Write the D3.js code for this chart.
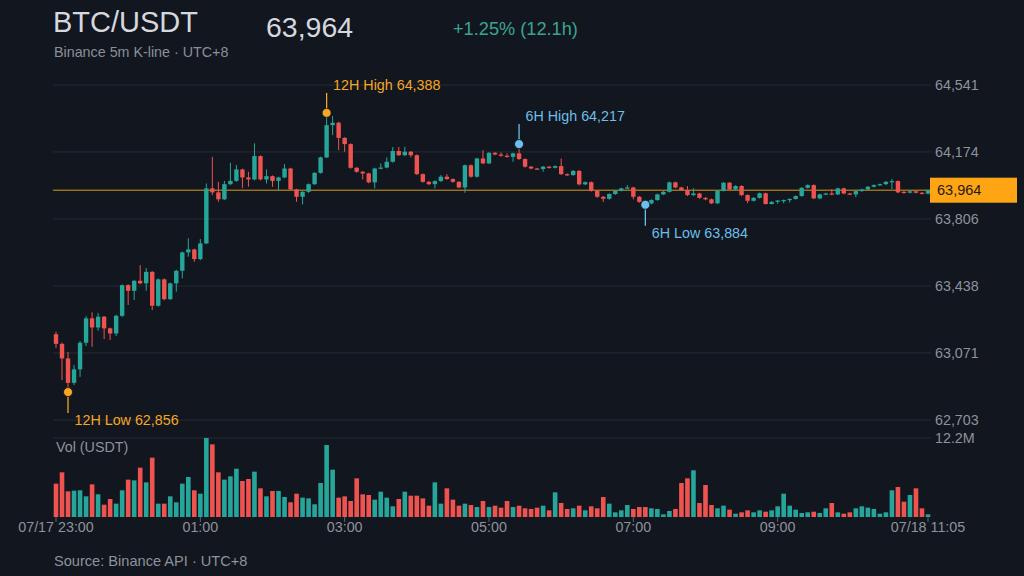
<!DOCTYPE html>
<html>
<head>
<meta charset="utf-8">
<script src="https://cdn.jsdelivr.net/npm/d3@7"></script>
<style>
  body { margin: 0; background: #12161f; }
  svg { display: block; }
</style>
</head>
<body>
<svg id="chart" width="1024" height="576"></svg>
<script>

// ---- values (BTC/USDT 5m candles, UTC+8) ----
var symbol = "BTC/USDT";
var startTime = "2024-07-17 23:00";
var stepMinutes = 5;

var opens = [
 63174,63121,63041,62907,62981,63127,63261,63211,63270,63206,
 63178,63275,63443,63412,63467,63453,63516,63330,63475,63366,
 63453,63522,63623,63639,63586,63672,63974,63952,63914,63997,
 64015,64078,64034,64023,64151,64023,64041,64015,64034,64083,
 63968,63928,63955,63997,64059,64144,64321,64334,64251,64217,
 64087,64065,64056,64007,64083,64088,64120,64179,64156,64175,
 64156,64052,64010,63997,64014,64038,64025,64010,63979,64101,
 64038,64138,64111,64169,64160,64153,64147,64166,64135,64093,
 64083,64080,64093,64087,64096,64052,64047,64070,63996,64008,
 63961,63928,63917,63943,63961,63974,63979,63928,63900,63891,
 63910,63941,63955,64007,63979,63965,63937,63946,63922,63914,
 63892,63961,64005,63968,63987,63937,63906,63922,63947,63888,
 63900,63907,63910,63916,63932,63977,63992,63919,63941,63946,
 63941,63974,63946,63941,63959,63968,63983,63992,63997,64010,
 64014,63955,63950,63958,63950,63945 ];

var highs = [
 63188,63128,63077,63005,63136,63273,63294,63291,63274,63210,
 63280,63447,63448,63470,63553,63537,63520,63480,63480,63457,
 63527,63627,63700,63643,63696,64001,64147,64010,64015,64114,
 64102,64082,64065,64221,64155,64078,64045,64038,64107,64087,
 63972,63959,64001,64063,64148,64388,64371,64340,64255,64221,
 64091,64069,64060,64087,64111,64144,64201,64201,64202,64179,
 64160,64056,64014,64018,64047,64052,64029,64014,64105,64105,
 64142,64184,64173,64174,64171,64166,64170,64217,64139,64097,
 64086,64097,64097,64100,64138,64056,64074,64074,64012,64012,
 63965,63932,63947,63965,63978,63992,63983,63932,63904,63914,
 63945,63959,64011,64011,63983,63987,63975,63950,63926,63918,
 63965,64009,64009,63991,63991,63941,63926,63951,63951,63904,
 63910,63913,63919,63935,63981,63996,63996,63945,63950,63970,
 63978,63978,63950,63963,63972,63987,63996,64000,64014,64025,
 64018,63959,63962,63962,63954,63967 ];

var lows = [
 63098,62922,62856.4,62895,62940,63109,63105,63193,63147,63142,
 63164,63268,63334,63361,63448,63412,63306,63325,63360,63362,
 63407,63480,63599,63571,63580,63668,63937,63900,63910,63992,
 64010,63975,63983,64018,64018,64001,63983,63961,64030,63964,
 63900,63886,63950,63993,64055,64140,64266,64184,64175,64082,
 64060,64023,64002,63974,64079,64084,64115,64152,64151,64144,
 64047,64005,63992,63974,64010,64021,64005,63975,63950,64033,
 64033,64107,64107,64155,64148,64142,64120,64130,64088,64079,
 64076,64065,64082,64083,64047,64042,64043,63990,63992,63956,
 63922,63899,63912,63938,63957,63970,63914,63895,63884,63887,
 63906,63937,63951,63975,63960,63932,63933,63917,63909,63888,
 63888,63957,63964,63962,63932,63893,63902,63918,63886,63886,
 63890,63892,63896,63912,63928,63973,63915,63915,63937,63937,
 63937,63942,63937,63926,63955,63964,63979,63988,63993,63970,
 63948,63945,63946,63946,63941,63941 ];

var closes = [
 63121,63041,62907,62981,63127,63261,63211,63270,63206,63178,
 63275,63443,63412,63467,63453,63516,63330,63475,63366,63453,
 63522,63623,63639,63586,63672,63974,63952,63914,63997,64015,
 64078,64034,64023,64151,64023,64041,64015,64034,64083,63968,
 63928,63955,63997,64059,64144,64321,64334,64251,64217,64087,
 64065,64056,64007,64083,64088,64120,64179,64156,64175,64156,
 64052,64010,63997,64014,64038,64025,64010,63979,64101,64038,
 64138,64111,64169,64160,64153,64147,64166,64135,64093,64083,
 64080,64093,64087,64096,64052,64047,64070,63996,64008,63961,
 63928,63917,63943,63961,63974,63979,63928,63900,63891,63910,
 63941,63955,64007,63979,63965,63937,63946,63922,63914,63892,
 63961,64005,63968,63987,63937,63906,63922,63947,63888,63900,
 63907,63910,63916,63932,63977,63992,63919,63941,63946,63941,
 63974,63946,63941,63959,63968,63983,63992,63997,64010,64014,
 63952,63950,63958,63950,63945,63964 ];

// volume in millions of USDT
var volumes = [
 5.15,6.90,3.96,4.07,4.12,3.19,5.04,3.50,1.90,2.78,
 2.06,4.12,5.77,5.66,7.62,5.35,9.16,2.06,2.06,3.19,
 2.27,5.15,6.18,4.12,3.60,12.2,11.22,6.90,5.77,6.28,
 7.46,5.56,5.87,7.00,4.43,3.19,4.02,4.02,3.09,2.27,
 3.60,2.99,2.88,1.96,5.25,11.12,7.31,2.99,3.19,2.47,
 5.97,3.50,3.40,2.68,3.91,2.99,1.65,2.78,3.91,3.29,
 3.29,2.88,1.75,5.35,2.06,4.43,2.68,1.75,2.06,1.85,
 1.54,2.47,1.54,1.75,1.44,2.47,1.54,1.75,1.34,1.24,
 1.44,1.75,1.03,3.81,2.16,1.24,1.34,1.75,1.03,1.65,
 1.34,3.09,2.06,0.72,1.03,1.85,1.24,1.54,1.54,1.34,
 1.24,0.41,0.93,1.24,5.25,5.97,7.21,2.16,4.94,1.85,
 1.34,1.75,1.13,0.51,0.72,1.03,0.72,1.03,0.82,1.03,
 1.65,3.60,1.75,1.13,0.62,0.72,0.82,0.62,1.34,2.16,
 0.72,0.51,0.72,1.34,1.65,1.44,1.24,0.51,0.72,4.12,
 4.63,2.37,3.40,4.43,1.34,0.41 ];
var volMax = 12.2;

var priceTicks = [62703, 63071, 63438, 63806, 64174, 64541];
var timeTicks = ["2024-07-17 23:00", "2024-07-18 01:00", "2024-07-18 03:00", "2024-07-18 05:00",
                 "2024-07-18 07:00", "2024-07-18 09:00", "2024-07-18 11:05"];
var timeTickLabels = ["07/17 23:00", "01:00", "03:00", "05:00", "07:00", "09:00", "07/18 11:05"];

// ---- colours ----
var UP = "#26a69a", DOWN = "#ef5350";
var GRID = "#262b36", AXIS_TXT = "#8e929b";
var ORANGE = "#f5a623", BLUE = "#6cbfe9";
var FONT = "'Liberation Sans', Arial, sans-serif";

var svg = d3.select("#chart");
var parse = d3.utcParse("%Y-%m-%d %H:%M");
var fmt = d3.format(",.0f");

var t0 = parse(startTime);
var candles = opens.map(function(o, i){
    return { t: new Date(+t0 + i*stepMinutes*60000), o: o, h: highs[i], l: lows[i], c: closes[i], v: volumes[i] };
});
var n = candles.length;

var left = 53, right = 931;
var x = d3.scaleTime().domain([candles[0].t, candles[n-1].t]).range([56, 928]);
var lo = d3.min(lows), hi = d3.max(highs), pad = (hi - lo)*0.1;
var y = d3.scaleLinear().domain([lo - pad, hi + pad]).range([420, 85]);
var yv = d3.scaleLinear().domain([0, volMax]).range([517, 438]);

function append_text( grp, px, py, text, size, color, align='start' ){
    return grp.append("text")
        .attr("x", px).attr("y", py)
        .attr("font-family", FONT)
        .attr("font-size", size + "px")
        .attr("fill", color)
        .attr("text-anchor", align)
        .text(text);
}

// ---- header ----
var last = candles[n-1];
var pct = (last.c - candles[0].o) / candles[0].o * 100;
var hours = (n - 1) * stepMinutes / 60;
var head = svg.append("g");
append_text(head, 53, 32, symbol, 29, "#d5d8de");
append_text(head, 266, 37, fmt(last.c), 28.5, "#d5d8de");
append_text(head, 453, 35, (pct >= 0 ? "+" : "") + pct.toFixed(2) + "% (" + hours.toFixed(1) + "h)", 18.2, "#3aa58f");
append_text(head, 54, 57, "Binance 5m K-line \u00b7 UTC+8", 14.3, "#8a8f98");

// ---- price grid + right axis ----
var grid = svg.append("g");
grid.selectAll("line").data(priceTicks).enter().append("line")
    .attr("x1", left).attr("x2", right)
    .attr("y1", function(d){ return y(d); }).attr("y2", function(d){ return y(d); })
    .attr("stroke", GRID).attr("stroke-width", 1);
grid.selectAll("text").data(priceTicks).enter().append("text")
    .attr("x", 935).attr("y", function(d){ return y(d); })
    .attr("dy", ".35em")
    .attr("font-family", FONT).attr("font-size", "14.3px")
    .attr("fill", AXIS_TXT)
    .text(function(d){ return fmt(d); });

// volume top line
grid.append("line").attr("x1", left).attr("x2", right)
    .attr("y1", yv(volMax)).attr("y2", yv(volMax))
    .attr("stroke", GRID);
append_text(grid, 935, yv(volMax), volMax + "M", 14.3, AXIS_TXT).attr("dy", ".35em");
append_text(grid, 56, 452, "Vol (USDT)", 14.3, AXIS_TXT);

// current price line
svg.append("line")
    .attr("x1", left).attr("x2", 930)
    .attr("y1", y(last.c)).attr("y2", y(last.c))
    .attr("stroke", "#d99a1e").attr("stroke-width", 1);

// ---- candles ----
var bw = 4.4;
var cg = svg.append("g");
cg.selectAll("line").data(candles).enter().append("line")
    .attr("x1", function(d){ return x(d.t); }).attr("x2", function(d){ return x(d.t); })
    .attr("y1", function(d){ return y(d.h); }).attr("y2", function(d){ return y(d.l); })
    .attr("stroke", function(d){ return d.c >= d.o ? UP : DOWN; })
    .attr("stroke-width", 1);
cg.selectAll("rect").data(candles).enter().append("rect")
    .attr("x", function(d){ return x(d.t) - bw/2; })
    .attr("y", function(d){ return y(Math.max(d.o, d.c)); })
    .attr("width", bw)
    .attr("height", function(d){ return Math.max(1.2, Math.abs(y(d.o) - y(d.c))); })
    .attr("fill", function(d){ return d.c >= d.o ? UP : DOWN; });

// ---- volume ----
svg.append("g").selectAll("rect").data(candles).enter().append("rect")
    .attr("x", function(d){ return x(d.t) - 2.3; })
    .attr("y", function(d){ return yv(d.v); })
    .attr("width", 4.6)
    .attr("height", function(d){ return yv(0) - yv(d.v); })
    .attr("fill", function(d){ return d.c >= d.o ? UP : DOWN; });

// ---- time axis ----
var tx = svg.append("g");
var tks = timeTicks.map(function(s, i){ return { t: parse(s), label: timeTickLabels[i] }; });
tx.selectAll("line").data(tks).enter().append("line")
    .attr("x1", function(d){ return x(d.t); }).attr("x2", function(d){ return x(d.t); })
    .attr("y1", 517).attr("y2", 522)
    .attr("stroke", "#5d626c");
tx.selectAll("text").data(tks).enter().append("text")
    .attr("x", function(d){ return x(d.t); }).attr("y", 532)
    .attr("text-anchor", "middle")
    .attr("font-family", FONT).attr("font-size", "14.3px")
    .attr("fill", AXIS_TXT)
    .text(function(d){ return d.label; });

append_text(svg, 54, 566, "Source: Binance API \u00b7 UTC+8", 14.6, AXIS_TXT);

// ---- high / low markers ----
function mark( d, val, isHigh, label, color ){
    var cx = x(d.t), cy = y(val);
    var g = svg.append("g");
    var ly = isHigh ? cy - 20 : cy + 21;
    g.append("line").attr("x1", cx).attr("x2", cx)
        .attr("y1", cy).attr("y2", ly)
        .attr("stroke", color).attr("stroke-width", 1.3);
    g.append("circle").attr("cx", cx).attr("cy", cy).attr("r", 4.5)
        .attr("fill", color).attr("stroke", "#12161f").attr("stroke-width", 0.8);
    append_text(g, cx + 6.5, isHigh ? cy - 23 : cy + 33, label + " " + fmt(val), 14.3, color);
}

var i12h = d3.maxIndex(candles, function(d){ return d.h; });
var i12l = d3.minIndex(candles, function(d){ return d.l; });
var recent = candles.slice(n - 72);
var i6h = d3.maxIndex(recent, function(d){ return d.h; });
var i6l = d3.minIndex(recent, function(d){ return d.l; });

mark(candles[i12h], candles[i12h].h, true, "12H High", ORANGE);
mark(candles[i12l], candles[i12l].l, false, "12H Low", ORANGE);
mark(recent[i6h], recent[i6h].h, true, "6H High", BLUE);
mark(recent[i6l], recent[i6l].l, false, "6H Low", BLUE);

// ---- last price tag ----
var tag = svg.append("g");
tag.append("rect").attr("x", 930).attr("y", y(last.c) - 12.5)
    .attr("width", 87).attr("height", 25).attr("fill", "#ffa514");
append_text(tag, 937, y(last.c), fmt(last.c), 14.5, "#1b1b1b").attr("dy", ".35em");

</script>
</body>
</html>
